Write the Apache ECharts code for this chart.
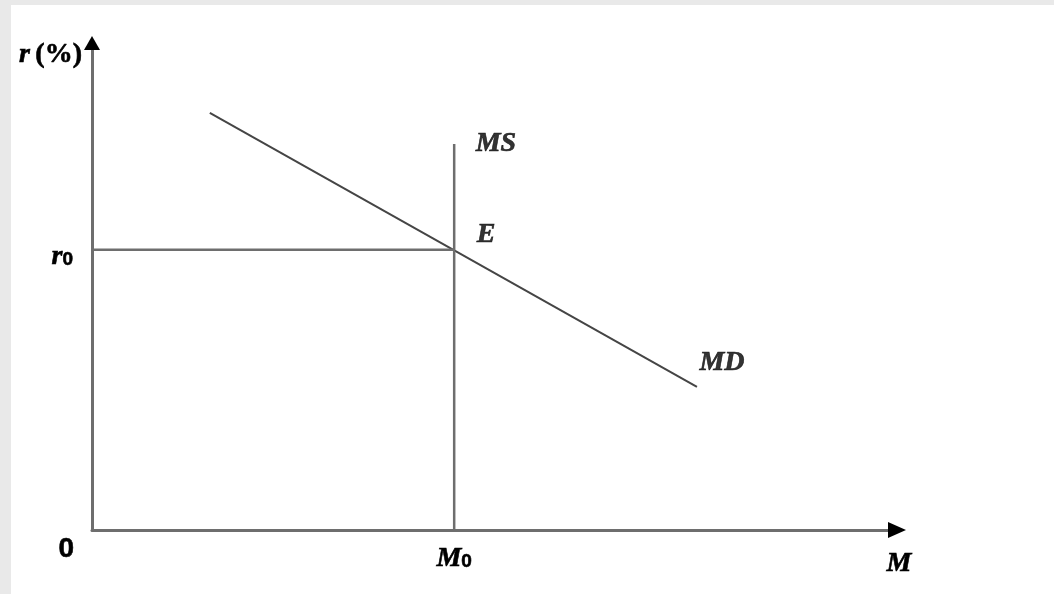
<!DOCTYPE html>
<html>
<head>
<meta charset="utf-8">
<script src="https://cdn.jsdelivr.net/npm/echarts@6/dist/echarts.min.js"></script>
<style>
  html, body { margin: 0; padding: 0; background: #e9e9e9; width: 1054px; height: 594px; overflow: hidden; }
  #chart { position: absolute; left: 11px; top: 5px; width: 1043px; height: 589px; background: #ffffff; }
</style>
</head>
<body>
<div id="chart"></div>
<script>
// ---- data (axis units 0..100) ----
const axisRange = [0, 100];
const moneySupply = 45.5;          // M0
const rate0 = 58.4;                // r0
const msTop = 80.4;                // top of MS line
const mdX = [14.8, 76.0];          // MD line x ends
const mdY = [86.9, 29.8];          // MD line y ends
const curveLabels = ['MS', 'E', 'MD'];
const yTickLabels = ['0', 'r0'];
const xTickLabels = ['M0'];

const serif = 'Liberation Serif';
const sans = 'Liberation Sans';
const axisGray = '#6e6e6e';
const heavy = { textBorderColor: '#000', textBorderWidth: 0.6 };

const chart = echarts.init(document.getElementById('chart'), null, { renderer: 'canvas' });

const baseAxis = {
  type: 'value', min: axisRange[0], max: axisRange[1],
  axisTick: { show: false }, splitLine: { show: false }
};

const serifBI = Object.assign({ fontFamily: serif, fontStyle: 'italic', fontWeight: 'bold', fontSize: 28, color: '#000' }, heavy);
const sub = Object.assign({ fontFamily: sans, fontWeight: 'bold', fontSize: 19, color: '#000', padding: [6, 0, 0, 0] }, heavy);

const option = {
  animation: false,
  backgroundColor: '#ffffff',
  grid: { left: 81, top: 45, right: 166, bottom: 64, containLabel: false },
  xAxis: [
    Object.assign({}, baseAxis, {
      position: 'bottom',
      axisLine: { show: true, onZero: false, symbol: ['none', 'triangle'], symbolSize: [16, 18], symbolOffset: [0, 9],
        lineStyle: { color: '#000', width: 1 } },
      axisLabel: {
        show: true, customValues: [moneySupply], margin: 15,
        formatter: () => '{m|' + xTickLabels[0].charAt(0) + '}{s|' + xTickLabels[0].charAt(1) + '}',
        rich: { m: serifBI, s: sub }
      },
      name: 'M', nameLocation: 'end', nameGap: 11,
      nameTextStyle: Object.assign({}, serifBI, { align: 'center', verticalAlign: 'top', padding: [20, 0, 0, 0] })
    }),
    Object.assign({}, baseAxis, {
      position: 'bottom',
      axisLine: { show: true, onZero: false, lineStyle: { color: axisGray, width: 3 } },
      axisLabel: { show: false }
    })
  ],
  yAxis: [
    Object.assign({}, baseAxis, {
      position: 'left',
      axisLine: { show: true, onZero: false, symbol: ['none', 'triangle'], symbolSize: [16, 14], symbolOffset: [0, 7],
        lineStyle: { color: '#000', width: 1 } },
      axisLabel: {
        show: true, customValues: [rate0], margin: 19,
        formatter: () => '{r|' + yTickLabels[1].charAt(0) + '}{s|' + yTickLabels[1].charAt(1) + '}',
        padding: [14, 0, 0, 0],
        rich: { r: serifBI, s: sub }
      },
      name: '{i|r}{g| }{n|(%)}', nameLocation: 'end', nameGap: -5,
      nameTextStyle: {
        align: 'right', verticalAlign: 'middle', padding: [0, 10, 0, 0],
        rich: {
          i: serifBI,
          g: { fontFamily: serif, fontSize: 22 },
          n: Object.assign({}, serifBI, { fontStyle: 'normal' })
        }
      }
    }),
    Object.assign({}, baseAxis, {
      position: 'left',
      axisLine: { show: true, onZero: false, lineStyle: { color: axisGray, width: 3 } },
      axisLabel: Object.assign({
        show: true, customValues: [axisRange[0]], margin: 18,
        verticalAlign: 'top', padding: [5, 0, 0, 0],
        formatter: () => yTickLabels[0],
        fontFamily: sans, fontWeight: 'bold', fontSize: 28, color: '#000'
      }, heavy)
    })
  ],
  series: [
    {
      name: 'MD', type: 'line', symbol: 'none', silent: true,
      lineStyle: { color: '#454545', width: 2 },
      data: [[mdX[0], mdY[0]], [mdX[1], mdY[1]]]
    },
    {
      name: 'MS', type: 'line', symbol: 'none', silent: true,
      lineStyle: { color: axisGray, width: 2.5 },
      data: [[moneySupply, axisRange[0]], [moneySupply, msTop]]
    },
    {
      name: 'r0', type: 'line', symbol: 'none', silent: true,
      lineStyle: { color: axisGray, width: 2.5 },
      data: [[axisRange[0], rate0], [moneySupply, rate0]]
    },
    {
      name: 'labels', type: 'scatter', symbolSize: 1, silent: true,
      itemStyle: { color: 'rgba(0,0,0,0)' },
      label: Object.assign({ show: true, position: 'right', formatter: p => p.name }, serifBI),
      data: [
        { name: curveLabels[0], value: [moneySupply, msTop], label: { distance: 21, offset: [0, 0] } },
        { name: curveLabels[1], value: [moneySupply, rate0], label: { distance: 22, offset: [0, -15] } },
        { name: curveLabels[2], value: [mdX[1], mdY[1]], label: { distance: 2, offset: [0, -24] } }
      ]
    }
  ]
};

chart.setOption(option);
</script>
</body>
</html>
